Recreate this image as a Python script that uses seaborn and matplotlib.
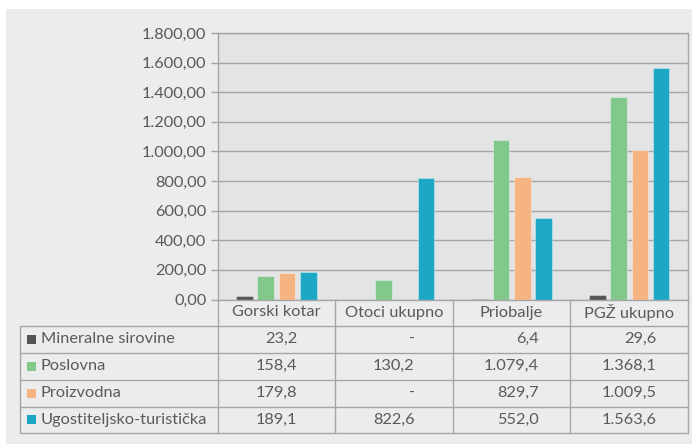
import numpy as np
import pandas as pd
import matplotlib
matplotlib.use("Agg")
import matplotlib.pyplot as plt
from matplotlib.patches import Rectangle
from matplotlib.lines import Line2D
from matplotlib.ticker import FuncFormatter, MultipleLocator
import seaborn as sns

# data (values in the table)
categories = ["Gorski kotar", "Otoci ukupno", "Priobalje", "PGŽ ukupno"]
series_names = ["Mineralne sirovine", "Poslovna", "Proizvodna", "Ugostiteljsko-turistička"]
mineralne = [23.2, 0.0, 6.4, 29.6]
poslovna = [158.4, 130.2, 1079.4, 1368.1]
proizvodna = [179.8, 0.0, 829.7, 1009.5]
ugostiteljska = [189.1, 822.6, 552.0, 1563.6]
series_values = [mineralne, poslovna, proizvodna, ugostiteljska]
colors = ["#555555", "#82c88a", "#f5b482", "#1ca7c5"]

TEXT = "#5a5a5a"
LINE = "#a5a5a5"
FS = 11.8


def hr_num(v, dec):
    s = f"{v:,.{dec}f}"
    return s.replace(",", "X").replace(".", ",").replace("X", ".")


def cell_text(v):
    return "-" if v == 0 else hr_num(v, 1)


rows = []
for name, vals in zip(series_names, series_values):
    for cat, v in zip(categories, vals):
        rows.append({"kategorija": cat, "namjena": name, "vrijednost": v})
df = pd.DataFrame(rows)

sns.set_theme(style="white")
plt.rcParams["font.family"] = ["Lato", "DejaVu Sans"]

W, H = 692, 444
fig = plt.figure(figsize=(W / 100, H / 100), dpi=100)
fig.patch.set_facecolor("white")


def fx(p):
    return p / W


def fy(p):
    return 1 - p / H


# light grey card behind the chart
fig.patches.append(Rectangle((fx(6), 0), 1 - fx(6), fy(9), transform=fig.transFigure,
                             facecolor="#ebecee", edgecolor="none", zorder=-5))

left_px, right_px, top_px, base_px = 217.5, 688, 33, 299.5
ax = fig.add_axes([fx(left_px), fy(base_px), fx(right_px) - fx(left_px), fy(top_px) - fy(base_px)])
ax.set_facecolor("#e3e4e6")

sns.barplot(data=df, x="kategorija", y="vrijednost", hue="namjena", order=categories,
            hue_order=series_names, palette=colors, width=0.724, gap=0.22,
            saturation=1, legend=False, ax=ax, edgecolor=(1, 1, 1, 0.35), linewidth=0.8)

ax.set_ylim(0, 1800)
ax.set_xlim(-0.5, len(categories) - 0.5)
ax.yaxis.set_major_locator(MultipleLocator(200))
ax.yaxis.set_major_formatter(FuncFormatter(lambda v, p: hr_num(v, 2)))
ax.yaxis.grid(True, color=LINE, lw=1)
ax.set_axisbelow(True)
ax.set_xlabel("")
ax.set_ylabel("")
ax.tick_params(axis="x", bottom=False, labelbottom=False)
ax.tick_params(axis="y", left=True, length=5, width=1, color=LINE, pad=3,
               labelsize=FS, labelcolor=TEXT)
for sp in ax.spines.values():
    sp.set_color(LINE)
    sp.set_linewidth(1)

# data table under the plot
table_left = 20
row_lines = [325.5, 352.5, 379.5, 406.5, 433]
col_edges = [ax.transData.transform((i - 0.5, 0))[0] for i in range(len(categories) + 1)]
col_edges[0] = left_px
col_edges[-1] = right_px


def hline(y, x0, x1):
    fig.add_artist(Line2D([fx(x0), fx(x1)], [fy(y), fy(y)], color=LINE, lw=1,
                          transform=fig.transFigure))


def vline(x, y0, y1):
    fig.add_artist(Line2D([fx(x), fx(x)], [fy(y0), fy(y1)], color=LINE, lw=1,
                          transform=fig.transFigure))


for y in row_lines:
    hline(y, table_left, right_px)
vline(table_left, row_lines[0], row_lines[-1])
for x in col_edges:
    vline(x, base_px, row_lines[-1])

# header row with category names
for i, cat in enumerate(categories):
    cx = (col_edges[i] + col_edges[i + 1]) / 2
    fig.text(fx(cx), fy((base_px + row_lines[0]) / 2), cat, ha="center", va="center",
             fontsize=FS, color=TEXT)

# series labels with colour keys
for r, (name, col) in enumerate(zip(series_names, colors)):
    yc = (row_lines[r] + row_lines[r + 1]) / 2
    fig.patches.append(Rectangle((fx(27), fy(yc + 4.5)), fx(9), 9 / H, transform=fig.transFigure,
                                 facecolor=col, edgecolor="none", zorder=3))
    fig.text(fx(41), fy(yc), name, ha="left", va="center", fontsize=FS, color=TEXT)

# values, right aligned around the widest number of each column
renderer = fig.canvas.get_renderer()
for i in range(len(categories)):
    texts = [cell_text(vals[i]) for vals in series_values]
    widths = []
    for s in texts:
        t = fig.text(0, 0, s, fontsize=FS)
        widths.append(t.get_window_extent(renderer).width)
        t.remove()
    cx = (col_edges[i] + col_edges[i + 1]) / 2
    xr = cx + max(widths) / 2
    for r, s in enumerate(texts):
        yc = (row_lines[r] + row_lines[r + 1]) / 2
        fig.text(fx(xr), fy(yc), s, ha="right", va="center", fontsize=FS, color=TEXT)

fig.savefig("out.png", dpi=100)
